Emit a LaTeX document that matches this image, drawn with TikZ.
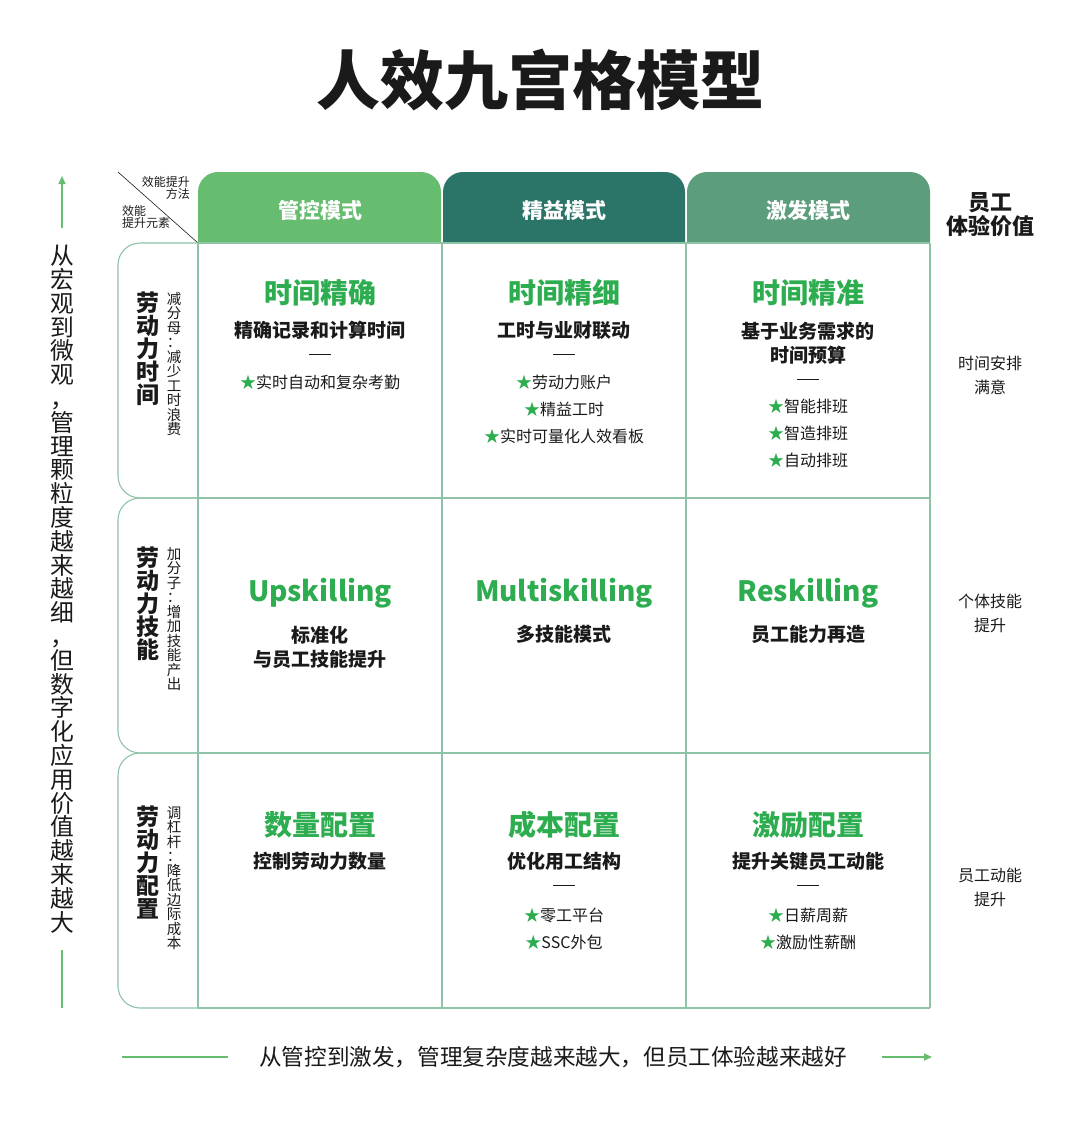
\documentclass[tikz,border=0pt]{standalone}
\usepackage{fontspec}
\setmainfont{Noto Sans CJK SC}
\usetikzlibrary{arrows.meta}
\definecolor{gA}{HTML}{66BC6F}
\definecolor{gB}{HTML}{2B7468}
\definecolor{gC}{HTML}{5C9E7C}
\definecolor{gline}{HTML}{8EC3A8}
\definecolor{ghead}{HTML}{2EAD50}
\definecolor{txt}{HTML}{1A1A1A}
\newcommand{\st}{{\color{ghead}★}}
\newcommand{\fs}[1]{\fontsize{#1}{#1}\selectfont}
\newcommand{\dsh}{\rule[3pt]{22pt}{1.2pt}}
\begin{document}
\begin{tikzpicture}[x=1pt,y=-1pt,
  grid/.style={draw=gline,line width=1.1pt},
  hd/.style={text=white,font=\fs{21}\bfseries},
  cellh/.style={text=ghead,font=\fs{28}\bfseries},
  cellsub/.style={text=txt,font=\fs{19}\bfseries,align=center},
  item/.style={text=txt,font=\fs{16}},
  vt/.style={text=txt,align=center,inner sep=0pt},
  side/.style={text=txt,font=\fs{16},align=center}]
\useasboundingbox (0,0) rectangle (1080,1122);
\node[text=txt,font=\fs{64}\bfseries] (title) at (540,80) {人效九宫格模型};
% headers
\fill[gA] (198,243) [rounded corners=20pt] -- (198,172) -- (441,172) [sharp corners] -- (441,243) -- cycle;
\fill[gB] (443,243) [rounded corners=20pt] -- (443,172) -- (685,172) [sharp corners] -- (685,243) -- cycle;
\fill[gC] (687,243) [rounded corners=20pt] -- (687,172) -- (930,172) [sharp corners] -- (930,243) -- cycle;
\node[hd] (h1) at (320,210) {管控模式};
\node[hd] (h2) at (564,210) {精益模式};
\node[hd] (h3) at (808,210) {激发模式};
\node[text=txt,font=\fs{22}\bfseries,align=center] (hr) at (990,215) {员工\\[2pt]体验价值};
% corner
\draw[txt,line width=0.6pt] (118,172) -- (198,243);
\node[font=\fs{12},text=txt,align=right,anchor=north east,inner sep=0pt] (c1) at (190,176) {效能提升\\方法};
\node[font=\fs{12},text=txt,align=left,anchor=north west,inner sep=0pt] (c2) at (122,205) {效能\\提升元素};
% grid
\foreach \a/\b in {243/498,498/753,753/1008}{
  \draw[grid] (198,\a) [rounded corners=22pt] -- (118,\a) -- (118,\b) [sharp corners] -- (198,\b);
}
\draw[grid] (198,243) -- (930,243) (198,498) -- (930,498) (198,753) -- (930,753) (198,1008) -- (930,1008);
\draw[grid] (198,243) -- (198,1008) (442,243) -- (442,1008) (686,243) -- (686,1008) (930,243) -- (930,1008);
% row labels
\node[vt,font=\fs{23}\bfseries,anchor=north] (r1) at (148,292) {劳\\动\\力\\时\\间};
\node[vt,font=\fs{14.5},anchor=north] (r1s) at (174,292) {减\\分\\母\\：\\减\\少\\工\\时\\浪\\费};
\node[vt,font=\fs{23}\bfseries,anchor=north] (r2) at (148,547) {劳\\动\\力\\技\\能};
\node[vt,font=\fs{14.5},anchor=north] (r2s) at (174,547) {加\\分\\子\\：\\增\\加\\技\\能\\产\\出};
\node[vt,font=\fs{23}\bfseries,anchor=north] (r3) at (148,806) {劳\\动\\力\\配\\置};
\node[vt,font=\fs{14.5},anchor=north] (r3s) at (174,806) {调\\杠\\杆\\：\\降\\低\\边\\际\\成\\本};
% row1
\node[cellh] (a1) at (320,293) {时间精确};
\node[cellsub] (a1s) at (320,330) {精确记录和计算时间};
\node[item] (a1d) at (320,356) {\dsh};
\node[item] (a1i) at (320,382) {\st 实时自动和复杂考勤};
\node[cellh] (b1) at (564,293) {时间精细};
\node[cellsub] (b1s) at (564,330) {工时与业财联动};
\node[item] (b1d) at (564,356) {\dsh};
\node[item] (b1i) at (564,382) {\st 劳动力账户};
\node[item] (b1j) at (564,409) {\st 精益工时};
\node[item] (b1k) at (564,436) {\st 实时可量化人效看板};
\node[cellh] (c1h) at (808,293) {时间精准};
\node[cellsub] (c1s) at (808,343) {基于业务需求的\\[5pt]时间预算};
\node[item] (c1d) at (808,381) {\dsh};
\node[item] (c1i) at (808,406) {\st 智能排班};
\node[item] (c1j) at (808,433) {\st 智造排班};
\node[item] (c1k) at (808,460) {\st 自动排班};
% row2
\node[cellh] (a2) at (320,593) {Upskilling};
\node[cellsub] (a2s) at (320,647) {标准化\\[5pt]与员工技能提升};
\node[cellh] (b2) at (564,593) {Multiskilling};
\node[cellsub] (b2s) at (564,634) {多技能模式};
\node[cellh] (c2) at (808,593) {Reskilling};
\node[cellsub] (c2s) at (808,634) {员工能力再造};
% row3
\node[cellh] (a3) at (320,825) {数量配置};
\node[cellsub] (a3s) at (320,861) {控制劳动力数量};
\node[cellh] (b3) at (564,825) {成本配置};
\node[cellsub] (b3s) at (564,861) {优化用工结构};
\node[item] (b3d) at (564,887) {\dsh};
\node[item] (b3i) at (564,915) {\st 零工平台};
\node[item] (b3j) at (564,942) {\st SSC外包};
\node[cellh] (c3) at (808,825) {激励配置};
\node[cellsub] (c3s) at (808,861) {提升关键员工动能};
\node[item] (c3d) at (808,887) {\dsh};
\node[item] (c3i) at (808,915) {\st 日薪周薪};
\node[item] (c3j) at (808,942) {\st 激励性薪酬};
% right column
\node[side] (s1) at (990,375) {时间安排\\[8pt]满意};
\node[side] (s2) at (990,613) {个体技能\\[8pt]提升};
\node[side] (s3) at (990,887) {员工动能\\[8pt]提升};
% left axis
\node[vt,font=\fs{23.8},anchor=north] (lt) at (62,245) {从\\宏\\观\\到\\微\\观\\，\\管\\理\\颗\\粒\\度\\越\\来\\越\\细\\，\\但\\数\\字\\化\\应\\用\\价\\值\\越\\来\\越\\大};
\coordinate (la1) at (62,228);
\coordinate (la2) at (62,176);
\coordinate (lb1) at (62,950);
\coordinate (lb2) at (62,1008);
\draw[gA,line width=1.6pt,-{Triangle[length=8pt,width=7pt]}] (la1) -- (la2);
\draw[gA,line width=1.6pt] (lb1) -- (lb2);
% bottom axis
\node[text=txt,font=\fs{22.6}] (bt) at (553,1057) {从管控到激发，管理复杂度越来越大，但员工体验越来越好};
\coordinate (ba1) at (122,1057);
\coordinate (ba2) at (228,1057);
\coordinate (bb1) at (882,1057);
\coordinate (bb2) at (932,1057);
\draw[gA,line width=1.6pt] (ba1) -- (ba2);
\draw[gA,line width=1.6pt,-{Triangle[length=8pt,width=7pt]}] (bb1) -- (bb2);
\end{tikzpicture}
\end{document}
